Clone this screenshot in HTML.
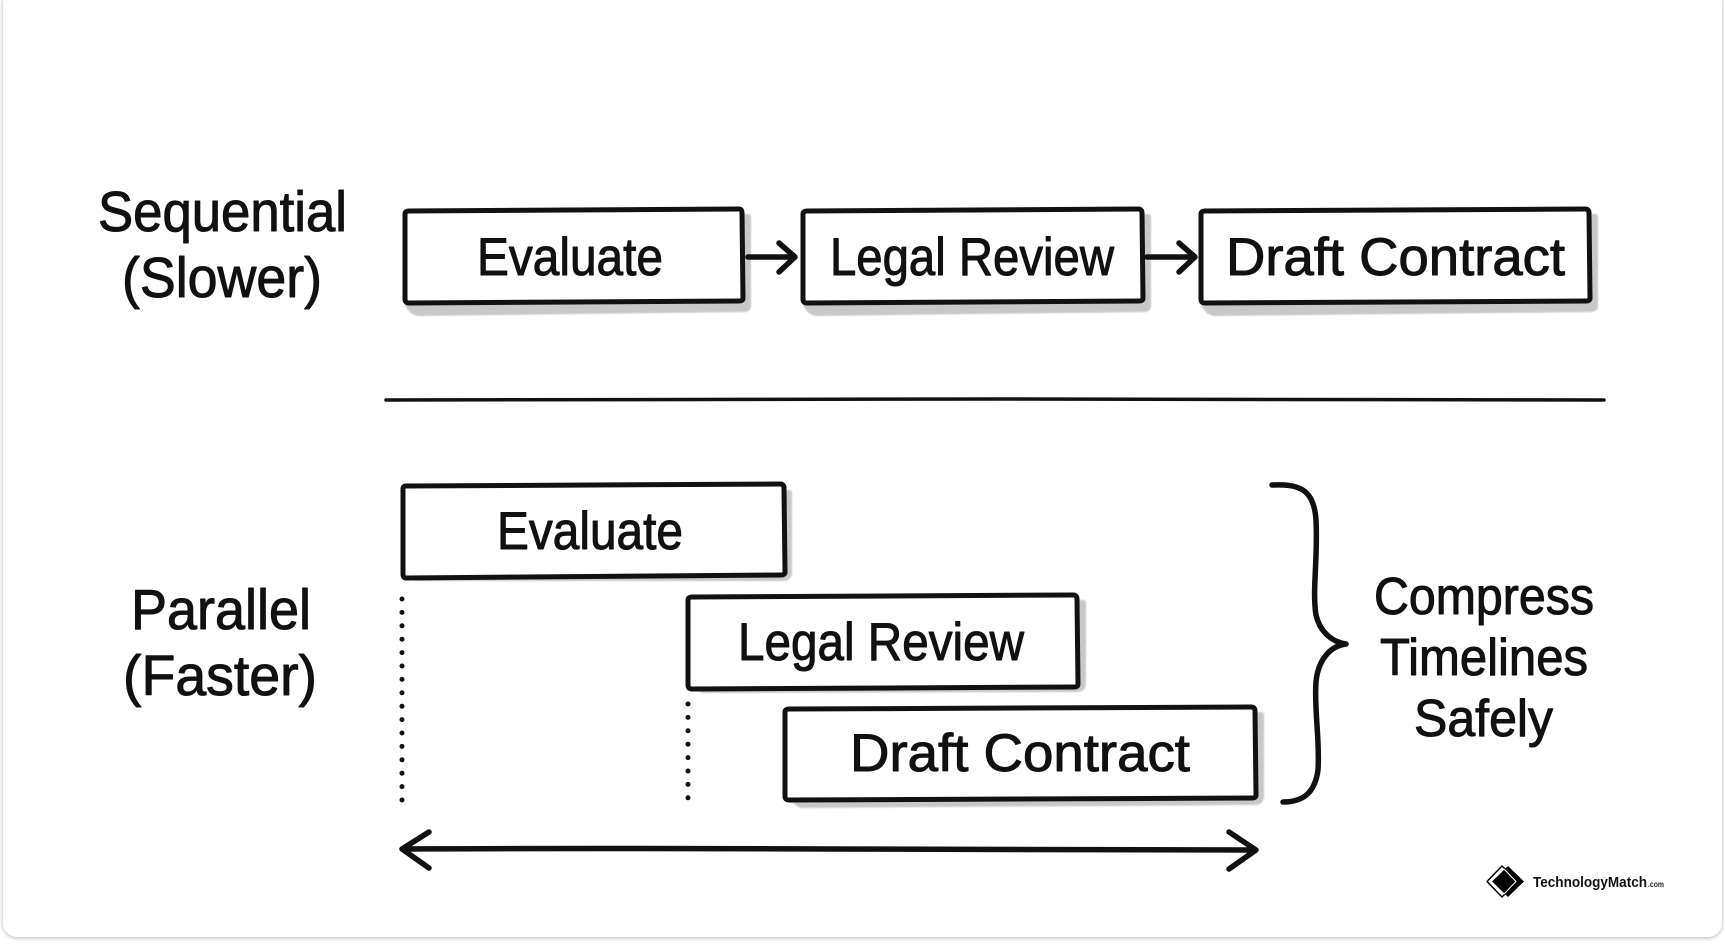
<!DOCTYPE html>
<html><head><meta charset="utf-8"><style>
html,body{margin:0;padding:0;background:#fff;width:1725px;height:944px;overflow:hidden}
svg{display:block}
text{font-family:"Liberation Sans",sans-serif;fill:#111;stroke:#111;stroke-width:1;stroke-linejoin:round;stroke-linecap:round;text-anchor:start}
.l{font-size:57px}.b{font-size:53px}.c{font-size:52px}
.k{fill:none;stroke:#111;stroke-width:5.5;stroke-linecap:round;stroke-linejoin:round}
.box{fill:#fff;stroke:#111;stroke-width:5;stroke-linejoin:round}
.sh{fill:#c8c8c8;filter:url(#bl)}
</style></head><body>
<svg width="1725" height="944" viewBox="0 0 1725 944" xmlns="http://www.w3.org/2000/svg">
<defs>
<filter id="cs" x="-2%" y="-2%" width="104%" height="104%"><feDropShadow dx="0" dy="1" stdDeviation="2" flood-color="#000" flood-opacity=".3"/></filter>
<filter id="bl" x="-2%" y="-5%" width="104%" height="110%"><feGaussianBlur stdDeviation=".7"/></filter>
</defs>
<rect x="3" y="-10" width="1719" height="947" rx="14" fill="#fff" filter="url(#cs)"/>

<!-- Sequential row -->
<text class="l" x="98" y="231" textLength="249" lengthAdjust="spacingAndGlyphs">Sequential</text>
<text class="l" x="122" y="297" textLength="200" lengthAdjust="spacingAndGlyphs">(Slower)</text>

<path class="sh" d="M412 214H749Q751 214 751 218V306Q751 312 743 312L420 316Q410 316 405 305Z"/>
<path class="box" d="M409 211L739 209Q742 209 742 213L743 298Q743 301 739 301L409 303Q405 303 405 299L405 214Q405 211 409 211Z"/>
<text class="b" x="477" y="275" textLength="186" lengthAdjust="spacingAndGlyphs">Evaluate</text>

<path class="sh" d="M810 214H1149Q1151 214 1151 218V306Q1151 312 1143 312L818 316Q808 316 803 305Z"/>
<path class="box" d="M807 211L1138 209Q1142 209 1142 213L1143 298Q1143 301 1139 301L807 303Q803 303 803 299L803 214Q803 211 807 211Z"/>
<text class="b" x="830" y="275" textLength="284" lengthAdjust="spacingAndGlyphs">Legal Review</text>

<path class="sh" d="M1208 214H1596Q1598 214 1598 218V306Q1598 312 1590 312L1216 316Q1206 316 1201 305Z"/>
<path class="box" d="M1205 211L1585 209Q1589 209 1589 213L1590 298Q1590 301 1586 301L1205 303Q1201 303 1201 299L1201 214Q1201 211 1205 211Z"/>
<text class="b" x="1226" y="275" textLength="339" lengthAdjust="spacingAndGlyphs">Draft Contract</text>

<path class="k" d="M748 257H794M779 243L795 257L779 272"/>
<path class="k" d="M1147 257H1194M1179 243L1195 257L1179 272"/>

<path d="M386 400L1000 399L1604 400" fill="none" stroke="#111" stroke-width="3.5" stroke-linecap="round"/>

<!-- Parallel row -->
<text class="l" x="131" y="629" textLength="180" lengthAdjust="spacingAndGlyphs">Parallel</text>
<text class="l" x="123" y="695" textLength="194" lengthAdjust="spacingAndGlyphs">(Faster)</text>

<path class="sh" d="M410 490H790Q792 490 792 494V572Q792 581 782 581L416 581L404 574Z"/>
<path class="box" d="M406 486L780 484Q784 484 784 488L785 572Q785 575 781 575L406 578Q403 578 403 574L403 489Q403 486 406 486Z"/>
<text class="b" x="497" y="549" textLength="186" lengthAdjust="spacingAndGlyphs">Evaluate</text>

<path class="sh" d="M694 600H1084Q1086 600 1086 604V684Q1086 692 1076 692L702 693L690 686Z"/>
<path class="box" d="M692 597L1073 595Q1077 595 1077 599L1078 684Q1078 687 1074 687L692 689Q688 689 688 685L688 600Q688 597 692 597Z"/>
<text class="b" x="738" y="660" textLength="286" lengthAdjust="spacingAndGlyphs">Legal Review</text>

<path class="sh" d="M790 712H1262Q1264 712 1264 716V796Q1264 805 1254 805L800 808L786 798Z"/>
<path class="box" d="M789 709L1251 707Q1255 707 1255 711L1256 795Q1256 798 1252 798L789 800Q785 800 785 796L785 712Q785 709 789 709Z"/>
<text class="b" x="850" y="771" textLength="340" lengthAdjust="spacingAndGlyphs">Draft Contract</text>

<line x1="402" y1="599" x2="402" y2="802" stroke="#111" stroke-width="5" stroke-linecap="round" stroke-dasharray="0 13.4"/>
<line x1="688" y1="704" x2="688" y2="798" stroke="#111" stroke-width="5" stroke-linecap="round" stroke-dasharray="0 13.4"/>

<path class="k" d="M402 849Q600 848 830 849T1255 850M429 832L402 849L429 868M1229 832L1256 850L1229 869"/>

<path class="k" stroke-width="6" d="M1272 485C1298 484 1314 488 1316 520C1318 560 1312 590 1316 615C1320 632 1332 642 1346 644C1330 646 1318 660 1316 682C1314 710 1320 740 1318 770C1315 792 1304 802 1283 802"/>

<text class="c" x="1374" y="614" textLength="220" lengthAdjust="spacingAndGlyphs">Compress</text>
<text class="c" x="1380" y="675" textLength="208" lengthAdjust="spacingAndGlyphs">Timelines</text>
<text class="c" x="1414" y="736" textLength="139" lengthAdjust="spacingAndGlyphs">Safely</text>

<!-- Logo -->
<path d="M1502 866L1518 881.500L1502 897L1487 881.500Z" fill="#fff" stroke="#000" stroke-width="1.5"/>
<path d="M1508 866L1524 881.500L1508 897L1492 881.500Z" fill="#000"/>
<path d="M1504 869L1516 881.500L1504 894" fill="none" stroke="#fff" stroke-width="1"/>
<text x="1533" y="887" font-size="14.5" style="font-weight:700;stroke:none;fill:#111" textLength="114" lengthAdjust="spacingAndGlyphs">TechnologyMatch</text>
<text x="1648" y="887" font-size="8" style="font-weight:700;stroke:none;fill:#222" textLength="16" lengthAdjust="spacingAndGlyphs">.com</text>
</svg>
</body></html>
